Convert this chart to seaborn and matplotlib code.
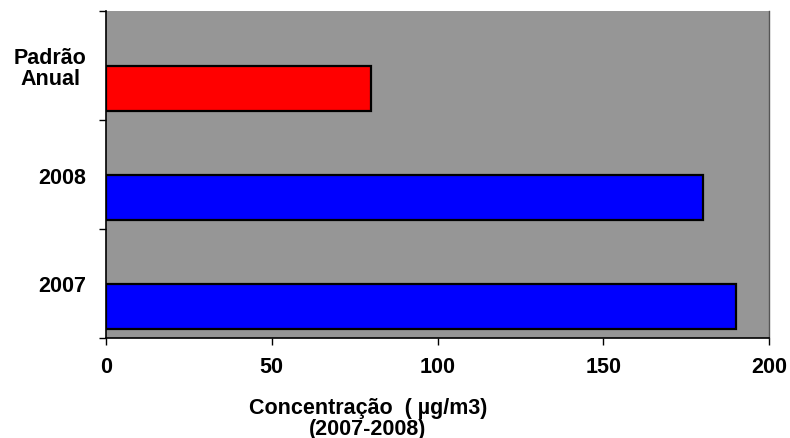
import matplotlib
matplotlib.use("Agg")
import matplotlib.pyplot as plt
import seaborn as sns
import numpy as np

categories = ["Padrão\nAnual", "2008", "2007"]
values = [80, 180, 190]
bar_colors = ["#FF0000", "#0000FF", "#0000FF"]
xticks = [0, 50, 100, 150, 200]
xlabel = "Concentração  ( µg/m3)\n(2007-2008)"

sns.set_theme(style="white")
plt.rcParams["font.family"] = ["Liberation Sans", "DejaVu Sans"]
plt.rcParams["font.weight"] = "bold"
plt.rcParams["text.color"] = "black"
plt.rcParams["xtick.color"] = "black"
plt.rcParams["ytick.color"] = "black"
plt.rcParams["axes.labelcolor"] = "black"

fig = plt.figure(figsize=(7.9, 4.39), dpi=100)
ax = fig.add_axes([106 / 790, 1 - 339 / 439, 663 / 790, 327 / 439])
ax.set_facecolor("#969696")

sns.barplot(x=values, y=categories, hue=categories, palette=bar_colors,
            orient="h", width=0.42, edgecolor="black", linewidth=1.6,
            legend=False, saturation=1, ax=ax)

off = 0.211
n = len(categories)
ax.set_ylim(n - 0.5 - off, -0.5 - off)
ax.set_xlim(0, 200)

ax.set_yticks(np.arange(n) - off)
ax.set_yticklabels(categories, fontsize=15.5, fontweight="bold",
                   multialignment="center", color="black", linespacing=1.0)
ax.set_yticks(np.arange(n + 1) - 0.5 - off, minor=True)
ax.tick_params(axis="y", which="major", length=0, pad=14)
ax.tick_params(axis="y", which="minor", length=5, width=1, color="black", left=True, direction="out")

ax.set_xticks(xticks)
ax.set_xticklabels([str(t) for t in xticks], fontsize=15.5, fontweight="bold", color="black")
ax.tick_params(axis="x", which="major", length=5, width=1, color="black", bottom=True, direction="out", pad=8)

ax.set_xlabel(xlabel, fontsize=15.5, fontweight="bold", linespacing=1.0, color="black")
ax.xaxis.set_label_coords(0.395, -0.18)
ax.xaxis.label.set_va("top")
ax.set_ylabel("")

for s in ["left", "bottom"]:
    ax.spines[s].set_color("black")
    ax.spines[s].set_linewidth(1.2)
    ax.spines[s].set_visible(True)
ax.spines["top"].set_visible(False)
ax.spines["right"].set_color("#555555")
ax.spines["right"].set_linewidth(1.0)
ax.spines["right"].set_visible(True)
ax.grid(False)

fig.savefig("out.png", dpi=100)
